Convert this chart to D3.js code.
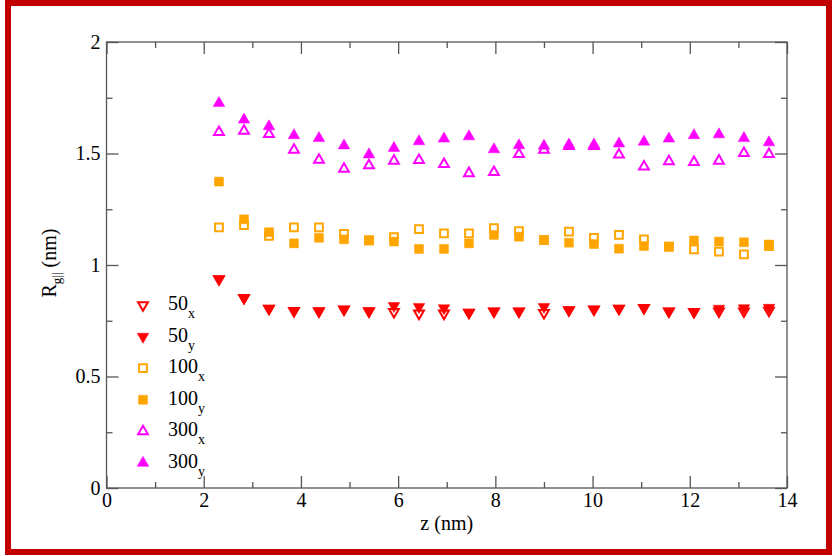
<!DOCTYPE html>
<html><head><meta charset="utf-8">
<script src="https://cdn.jsdelivr.net/npm/d3@7"></script>
<style>
html,body{margin:0;padding:0;background:#fff;}
</style></head>
<body><svg id="c" width="835" height="556"></svg>
<script>
const z = [2.314,2.829,3.343,3.857,4.371,4.886,5.400,5.914,6.429,6.943,7.457,7.971,8.486,9.000,9.514,10.029,10.543,11.057,11.571,12.086,12.600,13.114,13.629];
const r50x  = [0.930,0.846,0.798,0.788,0.786,0.794,0.786,0.783,0.776,0.776,0.780,0.786,0.786,0.779,0.791,0.794,0.798,0.801,0.786,0.783,0.786,0.786,0.789];
const r50y  = [0.930,0.846,0.798,0.788,0.788,0.794,0.788,0.810,0.806,0.800,0.780,0.786,0.786,0.806,0.791,0.794,0.798,0.801,0.786,0.783,0.798,0.800,0.802];
const r100x = [1.169,1.179,1.131,1.169,1.169,1.140,1.112,1.125,1.161,1.142,1.142,1.165,1.152,1.112,1.150,1.122,1.135,1.115,1.082,1.070,1.060,1.048,1.085];
const r100y = [1.374,1.205,1.147,1.097,1.122,1.115,1.109,1.105,1.072,1.072,1.097,1.135,1.127,1.112,1.100,1.094,1.073,1.085,1.082,1.110,1.105,1.102,1.092];
const r300x = [1.602,1.608,1.593,1.523,1.478,1.438,1.453,1.474,1.477,1.459,1.418,1.423,1.504,1.523,1.540,1.540,1.501,1.448,1.471,1.468,1.474,1.508,1.504];
const r300y = [1.732,1.658,1.628,1.588,1.575,1.542,1.502,1.531,1.561,1.573,1.583,1.525,1.543,1.541,1.546,1.546,1.551,1.559,1.573,1.588,1.592,1.575,1.556];
const xTicks = [0,2,4,6,8,10,12,14];
const yTicks = [0,0.5,1,1.5,2];
const series = [
  {name:"50",  sub:"x", values:r50x,  color:"#ff0000", shape:"down", filled:false},
  {name:"50",  sub:"y", values:r50y,  color:"#ff0000", shape:"down", filled:true},
  {name:"100", sub:"x", values:r100x, color:"#ffa500", shape:"square", filled:false},
  {name:"100", sub:"y", values:r100y, color:"#ffa500", shape:"square", filled:true},
  {name:"300", sub:"x", values:r300x, color:"#ff00ff", shape:"up", filled:false},
  {name:"300", sub:"y", values:r300y, color:"#ff00ff", shape:"up", filled:true}
];
const FONT = "'Liberation Serif', 'DejaVu Serif', 'Times New Roman', serif";

const svg = d3.select("#c");
const L=106.5, R=787, T=42, B=488;
const x = d3.scaleLinear().domain([0,14]).range([L,R]);
const y = d3.scaleLinear().domain([0,2]).range([B,T]);

// outer red border
svg.append("rect").attr("x",8).attr("y",3).attr("width",821).attr("height",549)
  .attr("fill","none").attr("stroke","#c20000").attr("stroke-width",6);

const axColor="#555";
svg.append("rect").attr("x",L).attr("y",T).attr("width",R-L).attr("height",B-T)
  .attr("fill","none").attr("stroke",axColor).attr("stroke-width",1.3);

function styleAxis(g){
  g.attr("font-family",null).attr("font-size",null);
  g.select(".domain").remove();
  g.selectAll("line").attr("stroke",axColor).attr("stroke-width",1.3);
  g.selectAll("text").style("font-family",FONT).style("font-size","20px").attr("fill","#000");
}
const xMinor = [1,3,5,7,9,11,13], yMinor=[0.25,0.75,1.25,1.75];
const gb = svg.append("g").attr("transform",`translate(0,${B})`)
  .call(d3.axisBottom(x).tickValues(xTicks).tickSizeInner(-12).tickSizeOuter(0).tickPadding(5).tickFormat(d3.format("d")));
styleAxis(gb);
svg.append("g").attr("transform",`translate(0,${B})`)
  .call(d3.axisBottom(x).tickValues(xMinor).tickSizeInner(-6).tickSizeOuter(0).tickFormat(""))
  .call(styleAxis);
svg.append("g").attr("transform",`translate(0,${T})`)
  .call(d3.axisTop(x).tickValues(xTicks).tickSizeInner(-12).tickSizeOuter(0).tickFormat(""))
  .call(styleAxis);
svg.append("g").attr("transform",`translate(0,${T})`)
  .call(d3.axisTop(x).tickValues(xMinor).tickSizeInner(-6).tickSizeOuter(0).tickFormat(""))
  .call(styleAxis);
const gl = svg.append("g").attr("transform",`translate(${L},0)`)
  .call(d3.axisLeft(y).tickValues(yTicks).tickSizeInner(-12).tickSizeOuter(0).tickPadding(6).tickFormat(d=>String(d)));
styleAxis(gl);
svg.append("g").attr("transform",`translate(${L},0)`)
  .call(d3.axisLeft(y).tickValues(yMinor).tickSizeInner(-6).tickSizeOuter(0).tickFormat(""))
  .call(styleAxis);
svg.append("g").attr("transform",`translate(${R},0)`)
  .call(d3.axisRight(y).tickValues(yTicks).tickSizeInner(-12).tickSizeOuter(0).tickFormat(""))
  .call(styleAxis);
svg.append("g").attr("transform",`translate(${R},0)`)
  .call(d3.axisRight(y).tickValues(yMinor).tickSizeInner(-6).tickSizeOuter(0).tickFormat(""))
  .call(styleAxis);

// axis titles
svg.append("text").attr("x",(L+R)/2).attr("y",530).attr("text-anchor","middle")
  .style("font-family",FONT).style("font-size","20px").text("z (nm)");
const yl = svg.append("text").attr("transform","translate(56,263) rotate(-90)")
  .attr("text-anchor","middle").style("font-family",FONT).style("font-size","20px");
yl.append("tspan").text("R");
yl.append("tspan").style("font-size","13px").attr("dy",5).text("g||");
yl.append("tspan").attr("dy",-5).text(" (nm)");

function symPath(shape, filled){
  if(shape==="square") return d3.symbol().type(d3.symbolSquare).size(filled?80:60)();
  return d3.symbol().type(d3.symbolTriangle).size(filled?58:42)();
}
function drawMarker(g, s){
  g.append("path").attr("d",symPath(s.shape,s.filled))
    .attr("transform", s.shape==="down" ? "rotate(180)" : null)
    .attr("fill", s.filled? s.color : "none")
    .attr("stroke", s.color).attr("stroke-width", s.filled?0.5:2);
}
const data = svg.append("g");
series.forEach(s=>{
  const pts = data.append("g").selectAll("g").data(s.values).join("g")
    .attr("transform",(d,i)=>{
      const off = s.shape==="up" ? 1.5 : (s.shape==="down" ? -1.5 : 0);
      return `translate(${x(z[i])},${y(d)+off})`;
    });
  pts.each(function(){ drawMarker(d3.select(this), s); });
});

const lg = svg.append("g");
series.forEach((s,i)=>{
  const yy = 305 + i*31.6;
  const g = lg.append("g").attr("transform",`translate(143,${yy})`);
  drawMarker(g, s);
  const t = lg.append("text").attr("x",168).attr("y",yy+5)
    .style("font-family",FONT).style("font-size","20px");
  t.append("tspan").text(s.name);
  t.append("tspan").style("font-size","14px").attr("dy",8).text(s.sub);
});
</script></body></html>
